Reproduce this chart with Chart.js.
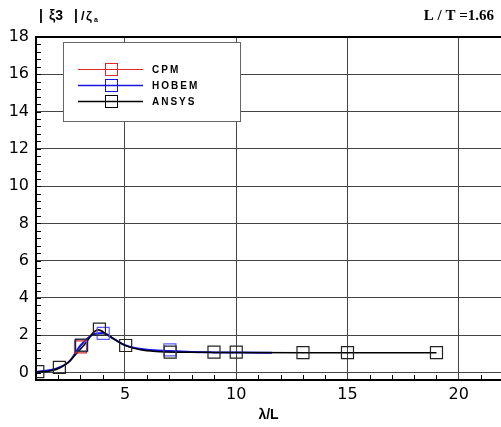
<!DOCTYPE html>
<html>
<head>
<meta charset="utf-8">
<script src="https://cdn.jsdelivr.net/npm/chart.js@4/dist/chart.umd.min.js"></script>
<style>
  body { margin: 0; background: #fff; overflow: hidden; }
</style>
</head>
<body>
<canvas id="rao-chart" width="501" height="427"></canvas>
<script>
// series labels
const seriesNames = ["CPM", "HOBEM", "ANSYS"];
const seriesColors = ["#e02828", "#1515e6", "#000000"];

// curves
const cpmX = [1, 2, 2.5, 3, 3.5, 3.8, 4.2, 5, 6, 7, 10];
const cpmY = [0.03, 0.25, 0.6, 1.4, 2.05, 2.25, 2.05, 1.45, 1.2, 1.12, 1.07];

const hobemX = [1, 2, 2.5, 3, 3.5, 4, 4.5, 5, 6, 7, 8, 9, 10, 11.6];
const hobemY = [0.03, 0.25, 0.6, 1.45, 2.0, 2.12, 1.8, 1.47, 1.22, 1.15, 1.1, 1.08, 1.07, 1.06];

const ansysX = [1, 1.7, 2.1, 2.5, 2.9, 3.3, 3.55, 3.8, 4.2, 4.7, 5.05, 5.7, 6.4, 7.5, 9, 10, 13, 15, 19];
const ansysY = [0.03, 0.1, 0.27, 0.6, 1.13, 1.68, 2.12, 2.3, 2.03, 1.66, 1.43, 1.22, 1.13, 1.09, 1.08, 1.07, 1.06, 1.06, 1.06];

// symbols
const cpmMarkX = [3.0];
const cpmMarkY = [1.38];
const hobemMarkX = [3.02, 4.02, 7.02];
const hobemMarkY = [1.45, 2.1, 1.22];
const ansysMarkX = [1.08, 2.05, 3.05, 3.85, 5.03, 7.03, 9, 10, 13, 15, 19];
const ansysMarkY = [0.05, 0.28, 1.47, 2.33, 1.45, 1.1, 1.1, 1.1, 1.07, 1.07, 1.07];

// axis ticks
const xTicks = [5, 10, 15, 20];
const yTicks = [0, 2, 4, 6, 8, 10, 12, 14, 16, 18];

const pts = (xs, ys) => xs.map((x, i) => ({ x: x, y: ys[i] }));

const lineSet = (name, xs, ys, color, width, order) => ({
    label: name,
    data: pts(xs, ys),
    borderColor: color,
    borderWidth: width,
    pointRadius: 0,
    cubicInterpolationMode: 'monotone',
    fill: false,
    order: order
});

const markSet = (name, xs, ys, color, order) => ({
    label: name + ' symbols',
    data: pts(xs, ys),
    showLine: false,
    pointStyle: 'rect',
    pointRadius: 8.5,
    pointBorderWidth: 1.2,
    pointBorderColor: color,
    pointBackgroundColor: 'rgba(0,0,0,0)',
    order: order
});

const tickFont = { family: '"DejaVu Sans", sans-serif', size: 16 };

const frameAndLegend = {
    id: 'frameAndLegend',
    beforeDatasetsDraw(chart) {
        const ctx = chart.ctx;
        const a = chart.chartArea;
        const xs = chart.scales.x, ys = chart.scales.y;
        ctx.save();
        // top frame
        ctx.strokeStyle = '#000';
        ctx.lineWidth = 2;
        ctx.beginPath();
        ctx.moveTo(a.left - 1, a.top);
        ctx.lineTo(a.right, a.top);
        ctx.stroke();
        // minor ticks, pointing inward
        ctx.lineWidth = 1;
        ctx.beginPath();
        for (let v = 2; v <= 21; v++) {
            if (v % 5 === 0) continue;
            const px = Math.round(xs.getPixelForValue(v)) + 0.5;
            ctx.moveTo(px, a.bottom);
            ctx.lineTo(px, a.bottom - 5);
        }
        for (let k = -1; k <= 45; k++) {
            const py = Math.round(ys.getPixelForValue(k * 0.4)) + 0.5;
            ctx.moveTo(a.left, py);
            ctx.lineTo(a.left + 5, py);
        }
        ctx.stroke();

        // legend box
        const bx = 63.5, by = 42.5, bw = 177, bh = 79;
        ctx.fillStyle = '#fff';
        ctx.fillRect(bx, by, bw, bh);
        ctx.strokeStyle = '#666';
        ctx.lineWidth = 1;
        ctx.strokeRect(bx, by, bw, bh);
        const rows = [69.5, 85.5, 101.5];
        ctx.font = 'bold 10px "Liberation Sans", Arial, sans-serif';
        ctx.letterSpacing = '2px';
        ctx.textBaseline = 'middle';
        seriesNames.forEach((name, i) => {
            const y = rows[i];
            ctx.strokeStyle = seriesColors[i];
            ctx.lineWidth = i === 0 ? 1 : 1.5;
            ctx.beginPath();
            ctx.moveTo(78, y);
            ctx.lineTo(143, y);
            ctx.stroke();
            ctx.lineWidth = 1;
            ctx.strokeRect(105.5, y - 6, 12, 12);
            ctx.fillStyle = '#000';
            ctx.fillText(name, 152, y + 0.5);
        });
        ctx.restore();
    },
    afterDraw(chart) {
        const ctx = chart.ctx;
        ctx.save();
        ctx.fillStyle = '#000';
        ctx.textBaseline = 'alphabetic';
        ctx.font = 'bold 14px "Liberation Sans", Arial, sans-serif';
        ctx.fillText('|', 39, 20);
        ctx.fillText('ξ3', 49, 20);
        ctx.fillText('|', 74, 20);
        ctx.font = 'bold 13px "Liberation Sans", Arial, sans-serif';
        ctx.fillText('/', 81, 20);
        ctx.fillText('ζ', 86, 20);
        ctx.font = 'bold 7px "Liberation Sans", Arial, sans-serif';
        ctx.fillText('a', 94, 22);
        ctx.font = 'bold 15px "Liberation Serif", "Times New Roman", serif';
        ctx.textAlign = 'right';
        ctx.fillText('L / T =1.66', 494, 20);
        ctx.restore();
    }
};

new Chart(document.getElementById('rao-chart'), {
    type: 'line',
    data: {
        datasets: [
            lineSet(seriesNames[0], cpmX, cpmY, seriesColors[0], 1, 6),
            lineSet(seriesNames[1], hobemX, hobemY, seriesColors[1], 2, 5),
            lineSet(seriesNames[2], ansysX, ansysY, seriesColors[2], 1.5, 4),
            markSet(seriesNames[0], cpmMarkX, cpmMarkY, '#d03030', 3),
            markSet(seriesNames[1], hobemMarkX, hobemMarkY, '#5a5aff', 2),
            markSet(seriesNames[2], ansysMarkX, ansysMarkY, '#222', 1)
        ]
    },
    options: {
        responsive: false,
        devicePixelRatio: 1,
        animation: false,
        layout: { autoPadding: false, padding: { top: 37, right: 0, left: 0, bottom: 0 } },
        plugins: { legend: { display: false }, tooltip: { enabled: false } },
        scales: {
            x: {
                type: 'linear',
                min: 1,
                max: 21.9,
                afterBuildTicks: s => { s.ticks = xTicks.map(v => ({ value: v })); },
                afterFit: s => { s.height = 47; s.paddingLeft = 0; s.paddingRight = 0; },
                grid: { color: '#444', lineWidth: 1, drawTicks: false },
                border: { color: '#000', width: 2 },
                ticks: { padding: 5, color: '#000', font: tickFont },
                title: {
                    display: true,
                    text: 'λ/L',
                    color: '#000',
                    padding: { top: 0, bottom: 3 },
                    font: { family: '"Liberation Sans", Arial, sans-serif', size: 14, weight: 'bold' }
                }
            },
            y: {
                type: 'linear',
                min: -0.4,
                max: 18,
                afterBuildTicks: s => { s.ticks = yTicks.map(v => ({ value: v })); },
                afterFit: s => { s.width = 36; s.paddingTop = 0; s.paddingBottom = 0; },
                grid: { color: '#444', lineWidth: 1, drawTicks: false },
                border: { color: '#000', width: 2 },
                ticks: { padding: 7, color: '#000', font: tickFont }
            }
        }
    },
    plugins: [frameAndLegend]
});
</script>
</body>
</html>
